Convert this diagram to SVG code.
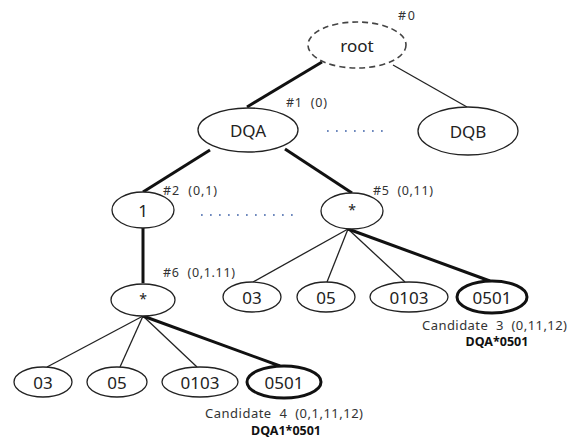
<svg xmlns="http://www.w3.org/2000/svg" width="578" height="442" viewBox="0 0 578 442">
  <style>
    .node { fill: #fff; stroke: #222; stroke-width: 1.3; }
    .sel { fill: #fff; stroke: #111; stroke-width: 3; }
    .dash { fill: #fff; stroke: #444; stroke-width: 1.6; stroke-dasharray: 6 4; }
    .lbl { font-family: "Noto Sans", "Open Sans", sans-serif; font-size: 17px; fill: #222; text-anchor: middle; dominant-baseline: central; }
    .tag { font-family: "Noto Sans", "Open Sans", sans-serif; font-size: 12.5px; fill: #333; }
    .cand { font-family: "Noto Sans", "Open Sans", sans-serif; font-size: 13px; fill: #333; }
    .bold { font-family: "Noto Sans", "Open Sans", sans-serif; font-size: 12.5px; font-weight: bold; fill: #111; text-anchor: middle; }
    .thin { stroke: #222; stroke-width: 1.3; fill: none; }
    .thick { stroke: #111; stroke-width: 3; fill: none; }
    .dots { stroke: #3f62a8; stroke-width: 1.7; stroke-dasharray: 1.7 7.3; fill: none; }
  </style>

  <g id="connectors">
    <line class="thick" x1="322" y1="62" x2="247" y2="107"/>
    <line class="thin" x1="393" y1="65" x2="467" y2="107"/>
    <line class="thick" x1="210" y1="150" x2="143" y2="192"/>
    <line class="thick" x1="285" y1="149" x2="352" y2="193"/>
    <line class="thick" x1="143" y1="228" x2="143" y2="283"/>
    <line class="thin" x1="348" y1="229" x2="253" y2="282"/>
    <line class="thin" x1="348" y1="229" x2="327" y2="282"/>
    <line class="thin" x1="348" y1="229" x2="405" y2="282"/>
    <line class="thick" x1="348" y1="229" x2="490" y2="281"/>
    <line class="thin" x1="143" y1="316" x2="47" y2="367"/>
    <line class="thin" x1="143" y1="316" x2="120" y2="367"/>
    <line class="thin" x1="143" y1="316" x2="197" y2="367"/>
    <line class="thick" x1="143" y1="316" x2="280" y2="366"/>
    <line class="dots" x1="327" y1="131" x2="390" y2="131"/>
    <line class="dots" x1="201" y1="215" x2="295" y2="215"/>
  </g>

  <g id="n0">
    <ellipse class="dash" cx="357" cy="45" rx="49" ry="23"/>
    <text class="lbl" x="357" y="45">root</text>
    <text class="tag" x="398" y="20" textLength="17">#0</text>
  </g>
  <g id="n1">
    <ellipse class="node" cx="248" cy="130" rx="50" ry="22"/>
    <text class="lbl" x="248" y="130">DQA</text>
    <text class="tag" x="286" y="107" textLength="41" xml:space="preserve">#1  (0)</text>
  </g>
  <g id="nDQB">
    <ellipse class="node" cx="468" cy="131" rx="50" ry="24"/>
    <text class="lbl" x="468" y="131">DQB</text>
  </g>
  <g id="n2">
    <ellipse class="node" cx="143" cy="210" rx="31" ry="18"/>
    <text class="lbl" x="143" y="210">1</text>
    <text class="tag" x="163" y="195" textLength="54" xml:space="preserve">#2  (0,1)</text>
  </g>
  <g id="n5">
    <ellipse class="node" cx="352" cy="211" rx="31" ry="18"/>
    <text class="lbl" x="352" y="209" style="font-size:14px">*</text>
    <text class="tag" x="373" y="195" textLength="60" xml:space="preserve">#5  (0,11)</text>
  </g>
  <g id="n6">
    <ellipse class="node" cx="143" cy="300" rx="32" ry="16"/>
    <text class="lbl" x="143" y="298" style="font-size:14px">*</text>
    <text class="tag" x="163" y="277" textLength="72" xml:space="preserve">#6  (0,1.11)</text>
  </g>

  <g id="n5-03">
    <ellipse class="node" cx="252" cy="297" rx="29" ry="15"/>
    <text class="lbl" x="252" y="297">03</text>
  </g>
  <g id="n5-05">
    <ellipse class="node" cx="326" cy="297" rx="29" ry="15"/>
    <text class="lbl" x="326" y="297">05</text>
  </g>
  <g id="n5-0103">
    <ellipse class="node" cx="409" cy="297" rx="39" ry="15"/>
    <text class="lbl" x="409" y="297">0103</text>
  </g>
  <g id="n5-0501">
    <ellipse class="sel" cx="492" cy="297" rx="35" ry="16"/>
    <text class="lbl" x="492" y="297">0501</text>
    <text class="cand" x="422" y="330" textLength="145" xml:space="preserve">Candidate  3  (0,11,12)</text>
    <text class="bold" x="497" y="346">DQA*0501</text>
  </g>

  <g id="n6-03">
    <ellipse class="node" cx="43" cy="382" rx="29" ry="15"/>
    <text class="lbl" x="43" y="382">03</text>
  </g>
  <g id="n6-05">
    <ellipse class="node" cx="117" cy="382" rx="30" ry="15"/>
    <text class="lbl" x="117" y="382">05</text>
  </g>
  <g id="n6-0103">
    <ellipse class="node" cx="200" cy="382" rx="38" ry="15"/>
    <text class="lbl" x="200" y="382">0103</text>
  </g>
  <g id="n6-0501">
    <ellipse class="sel" cx="284" cy="382" rx="37" ry="16"/>
    <text class="lbl" x="284" y="382">0501</text>
    <text class="cand" x="205" y="418" textLength="158" xml:space="preserve">Candidate  4  (0,1,11,12)</text>
    <text class="bold" x="286" y="435">DQA1*0501</text>
  </g>
</svg>
